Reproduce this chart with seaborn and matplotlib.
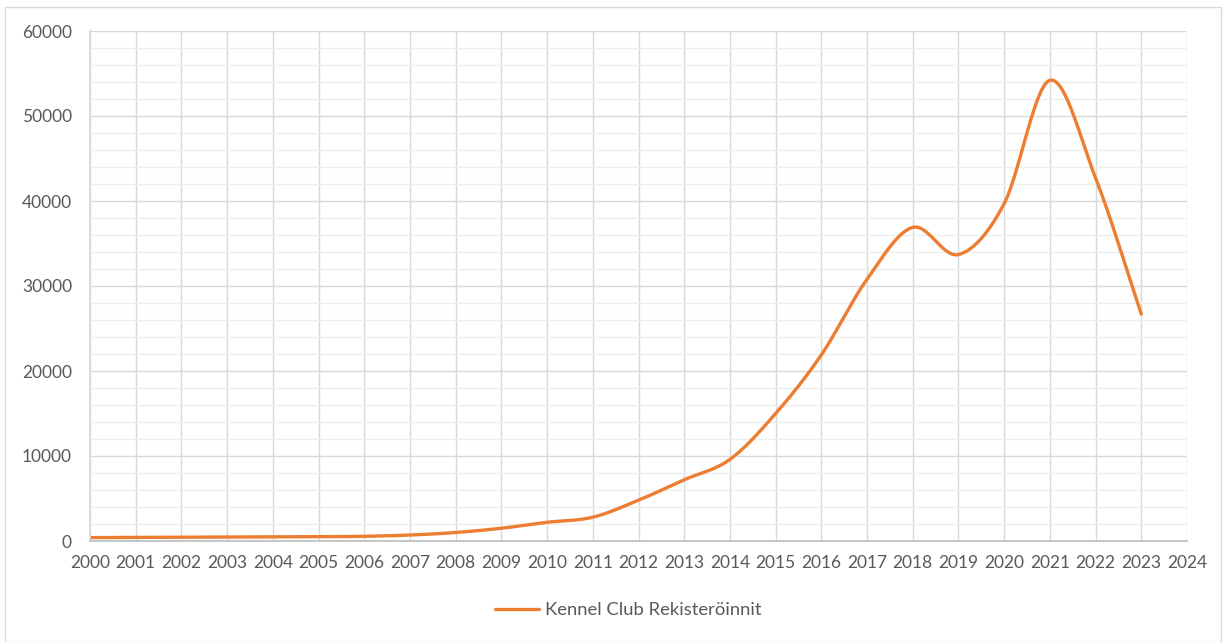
import numpy as np
import pandas as pd
import matplotlib
matplotlib.use("Agg")
import matplotlib.pyplot as plt
import seaborn as sns
from matplotlib.patches import Rectangle

years = list(range(2000, 2024))
registrations = [400, 420, 440, 460, 480, 500, 550, 700, 1000, 1500, 2200, 2800,
                 4800, 7200, 9600, 15000, 21900, 30800, 36900, 33700, 39700, 54200, 42700, 26700]
series_name = "Kennel Club Rekisteröinnit"
x_ticks = list(range(2000, 2025))
y_ticks = list(range(0, 60001, 10000))

sns.set_theme(style="white")
plt.rcParams['font.family'] = ['Lato', 'DejaVu Sans']

def catmull_rom(x, y, n=30):
    x = np.asarray(x, float); y = np.asarray(y, float)
    px = np.concatenate([[2*x[0]-x[1]], x, [2*x[-1]-x[-2]]])
    py = np.concatenate([[2*y[0]-y[1]], y, [2*y[-1]-y[-2]]])
    xs, ys = [], []
    t = np.linspace(0, 1, n, endpoint=False)
    for i in range(1, len(px)-2):
        p0, p1, p2, p3 = py[i-1], py[i], py[i+1], py[i+2]
        q0, q1, q2, q3 = px[i-1], px[i], px[i+1], px[i+2]
        c1y = p1 + (p2 - p0)/6; c2y = p2 - (p3 - p1)/6
        c1x = q1 + (q2 - q0)/6; c2x = q2 - (q3 - q1)/6
        b = lambda a, c1, c2, d: (1-t)**3*a + 3*(1-t)**2*t*c1 + 3*(1-t)*t**2*c2 + t**3*d
        xs.append(b(q1, c1x, c2x, q2)); ys.append(b(p1, c1y, c2y, p2))
    xs.append([x[-1]]); ys.append([y[-1]])
    return np.concatenate(xs), np.concatenate(ys)

sx, sy = catmull_rom(years, registrations)
df = pd.DataFrame({"Vuosi": sx, "Rekisteröinnit": sy})

fig = plt.figure(figsize=(12.29, 6.42), dpi=100)
fig.patches.append(Rectangle((5/1229, 0), 1216/1229, 1 - 7/642, transform=fig.transFigure,
                             fill=False, edgecolor="#d9d9d9", linewidth=1.0))
ax = fig.add_axes([90/1229, 1 - 541/642, (1187-90)/1229, (541-31)/642])

ax.set_xlim(2000, 2024)
ax.set_ylim(0, 60000)
ax.set_yticks(y_ticks)
ax.set_yticks(list(range(0, 60001, 2000)), minor=True)
ax.set_xticks(x_ticks)
ax.set_xticklabels([str(v) for v in x_ticks])
ax.set_yticklabels([str(v) for v in y_ticks])

ax.grid(which="major", axis="both", color="#d9d9d9", linewidth=1.0)
ax.grid(which="minor", axis="y", color="#eeeeee", linewidth=1.0)
ax.set_axisbelow(True)

sns.lineplot(data=df, x="Vuosi", y="Rekisteröinnit", ax=ax, color="#ED7D31",
             linewidth=2.4, sort=False, label=series_name, legend=False)
ax.set_xlabel(""); ax.set_ylabel("")

for s in ["top", "right"]:
    ax.spines[s].set_visible(False)
ax.spines["left"].set_color("#d9d9d9")
ax.spines["bottom"].set_color("#bfbfbf")
ax.tick_params(axis="both", which="both", length=0, labelsize=12.5, colors="#595959")
ax.tick_params(axis="x", pad=10)
ax.tick_params(axis="y", pad=13)

leg = fig.legend(handles=ax.get_lines()[:1], labels=[series_name], loc="center",
                 bbox_to_anchor=(628/1229, 1 - 610/642), frameon=False, fontsize=13.3,
                 handlelength=2.4, handletextpad=0.3)
for t in leg.get_texts():
    t.set_color("#595959")

fig.savefig("out.png", dpi=100)
